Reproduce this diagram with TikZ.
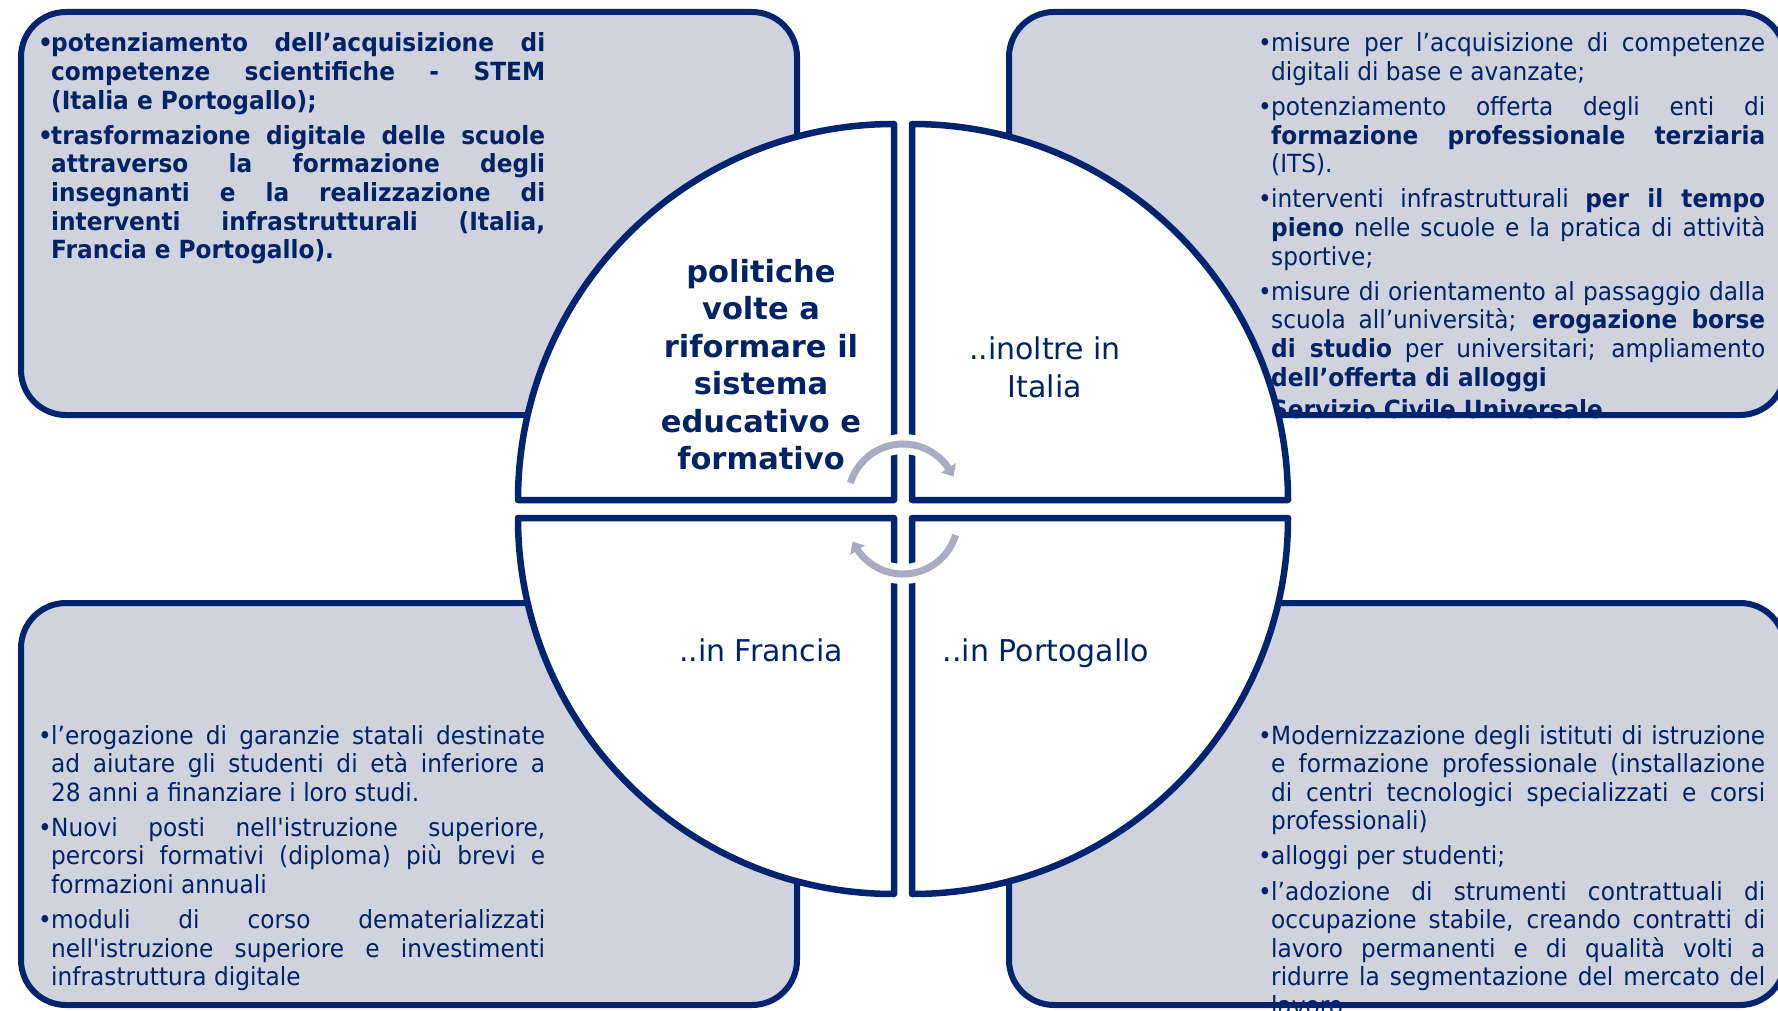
\documentclass[tikz,border=0pt]{standalone}
\usepackage{fontspec}
\usetikzlibrary{arrows.meta,bending}
\newfontfamily\txtfont{DejaVu Sans}[FakeStretch=0.93]
\newfontfamily\ctrfont{DejaVu Sans}
\definecolor{navy}{HTML}{00246F}
\definecolor{txtblue}{HTML}{002365}
\definecolor{boxfill}{HTML}{D0D2DD}
\definecolor{arcgrey}{HTML}{A9ACC0}
\newcommand\bulfirst{\ifvmode\noindent\fi\hangindent=13pt\hangafter=1\makebox[13pt][l]{•}}
\newcommand\bul{\par\noindent\hangindent=13pt\hangafter=1\makebox[13pt][l]{•}}
\tikzset{
  boxfillst/.style={fill=boxfill, rounded corners=45pt},
  boxborder/.style={draw=navy, line width=6pt, rounded corners=45pt},
  quad/.style={draw=navy, fill=white, line width=6.5pt, line join=round},
  bodytext/.style={anchor=base west, inner sep=0pt, text width=507pt, align=justify,
    text=txtblue, font=\txtfont\fontsize{25}{28.6}\selectfont,
    execute at begin node={\setlength{\parskip}{6.5pt}\tolerance=10000\hbadness=10000\hfuzz=20pt}},
  ctrbold/.style={align=center, inner sep=0pt, text=txtblue,
    font=\ctrfont\bfseries\fontsize{30.5}{37.5}\selectfont},
  ctrreg/.style={align=center, inner sep=0pt, text=txtblue,
    font=\ctrfont\fontsize{30}{38}\selectfont},
  casing/.style={draw=white, line width=20pt},
  cyclearc/.style={draw=arcgrey, line width=7pt, -{Triangle[length=10pt,width=17pt,bend]}}
}
\begin{document}
\begin{tikzpicture}[x=1pt,y=1pt]
\useasboundingbox (0,0) rectangle (1778,-1011);
\fill[white] (0,0) rectangle (1778,-1011);

% box fills
\path[boxfillst] (21,-12) rectangle (797,-415);
\path[boxfillst] (1009,-12) rectangle (1785,-415);
\path[boxfillst] (21,-603) rectangle (797,-1005);
\path[boxfillst] (1009,-603) rectangle (1785,-1005);

% box texts
\node[bodytext] (tltext) at (38,-52) {\bfseries\bulfirst potenziamento dell’acquisizione di\linebreak competenze scientifiche - STEM\linebreak (Italia e Portogallo);
\bul trasformazione digitale delle scuole\linebreak attraverso la formazione degli\linebreak insegnanti e la realizzazione di\linebreak interventi infrastrutturali (Italia,\linebreak Francia e Portogallo).\par};

\node[bodytext] (trtext) at (1258,-52) {\bulfirst misure per l’acquisizione di competenze\linebreak digitali di base e avanzate;
\bul potenziamento offerta degli enti di\linebreak \textbf{formazione professionale terziaria}\linebreak (ITS).
\bul interventi infrastrutturali \textbf{per il tempo\linebreak pieno} nelle scuole e la pratica di attività\linebreak sportive;
\bul misure di orientamento al passaggio dalla\linebreak scuola all’università; \textbf{erogazione borse\linebreak di studio} per universitari; ampliamento\linebreak \textbf{dell’offerta di alloggi}\\[3.4pt]\textbf{Servizio Civile Universale}\par};

\node[bodytext] (bltext) at (38,-744) {\bulfirst l’erogazione di garanzie statali destinate\linebreak ad aiutare gli studenti di età inferiore a\linebreak 28 anni a finanziare i loro studi.
\bul Nuovi posti nell'istruzione superiore,\linebreak percorsi formativi (diploma) più brevi e\linebreak formazioni annuali
\bul moduli di corso dematerializzati\linebreak nell'istruzione superiore e investimenti\linebreak infrastruttura digitale\par};

\node[bodytext] (brtext) at (1258,-744) {\bulfirst Modernizzazione degli istituti di istruzione\linebreak e formazione professionale (installazione\linebreak di centri tecnologici specializzati e corsi\linebreak professionali)
\bul alloggi per studenti;
\bul l’adozione di strumenti contrattuali di\linebreak occupazione stabile, creando contratti di\linebreak lavoro permanenti e di qualità volti a\linebreak ridurre la segmentazione del mercato del\linebreak lavoro\par};

% box borders
\path[boxborder] (21,-12) rectangle (797,-415);
\path[boxborder] (1009,-12) rectangle (1785,-415);
\path[boxborder] (21,-603) rectangle (797,-1005);
\path[boxborder] (1009,-603) rectangle (1785,-1005);

% quadrants
\coordinate (ctl) at (894,-500);
\coordinate (ctr) at (912,-500);
\coordinate (cbl) at (894,-518);
\coordinate (cbr) at (912,-518);
\path[quad] (518,-500) arc[start angle=180, end angle=90, radius=376] -- (ctl) -- cycle;
\path[quad] (912,-124) arc[start angle=90, end angle=0, radius=376] -- (ctr) -- cycle;
\path[quad] (518,-518) arc[start angle=180, end angle=270, radius=376] -- (cbl) -- cycle;
\path[quad] (1288,-518) arc[start angle=0, end angle=-90, radius=376] -- (cbr) -- cycle;

% cycle arrows
\coordinate (atop) at (903,-499);
\coordinate (abot) at (903,-519);
\path[casing] ([shift={(163:55)}]atop) arc[start angle=163, end angle=24, radius=55];
\path[casing] ([shift={(-17:55)}]abot) arc[start angle=-17, end angle=-156, radius=55];
\path[cyclearc] ([shift={(163:55)}]atop) arc[start angle=163, end angle=24, radius=55];
\path[cyclearc] ([shift={(-17:55)}]abot) arc[start angle=-17, end angle=-156, radius=55];

% centre texts (base = last line)
\node[ctrbold, anchor=base] (titolo) at (761,-469.5) {politiche\\volte a\\riformare il\\sistema\\educativo e\\formativo};
\node[ctrreg, anchor=base] (italia) at (1045,-397) {..inoltre in\\Italia};
\node[ctrreg, anchor=base] (francia) at (761,-661) {..in Francia};
\node[ctrreg, anchor=base] (portogallo) at (1046,-661) {..in Portogallo};
\end{tikzpicture}
\end{document}
